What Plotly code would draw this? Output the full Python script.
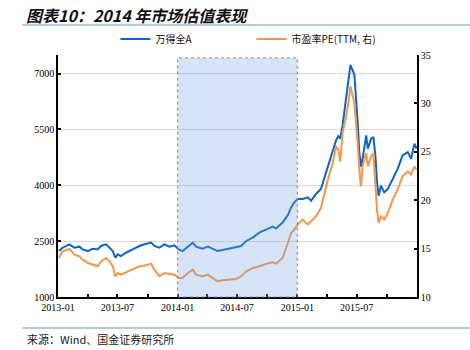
import plotly.graph_objects as go

# ---------------- data ----------------
dates = [
    "2013-01-04", "2013-01-15", "2013-02-05", "2013-02-20", "2013-03-07", "2013-03-17",
    "2013-04-02", "2013-04-17", "2013-05-02", "2013-05-12", "2013-05-28", "2013-06-07",
    "2013-06-17", "2013-06-25", "2013-07-02", "2013-07-12", "2013-07-27", "2013-08-17",
    "2013-09-06", "2013-09-21", "2013-10-12", "2013-10-22", "2013-11-06", "2013-11-21",
    "2013-12-07", "2013-12-22",
    "2014-01-04", "2014-01-16", "2014-02-01", "2014-02-16", "2014-02-26", "2014-03-18",
    "2014-04-03", "2014-04-18", "2014-05-03", "2014-05-18", "2014-06-08", "2014-06-28",
    "2014-07-13", "2014-07-29", "2014-08-18", "2014-09-07", "2014-09-28", "2014-10-18",
    "2014-10-28", "2014-11-17", "2014-12-03", "2014-12-13", "2014-12-23",
    "2015-01-02", "2015-01-17", "2015-02-02", "2015-02-12", "2015-02-27", "2015-03-14",
    "2015-03-24", "2015-04-04", "2015-04-19", "2015-04-29", "2015-05-06", "2015-05-12",
    "2015-05-19", "2015-05-30", "2015-06-07", "2015-06-12", "2015-06-24", "2015-06-29",
    "2015-07-04", "2015-07-09", "2015-07-14", "2015-07-19", "2015-07-30", "2015-08-04",
    "2015-08-14", "2015-08-21", "2015-08-27", "2015-09-01", "2015-09-06", "2015-09-13",
    "2015-09-23", "2015-10-04", "2015-10-19", "2015-11-03", "2015-11-18", "2015-12-04",
    "2015-12-14", "2015-12-24", "2015-12-31",
]

wind_all_a = [
    2234, 2324, 2415, 2324, 2352, 2279, 2234, 2297, 2279, 2370, 2415, 2324,
    2234, 2054, 2144, 2099, 2189, 2279, 2370, 2415, 2460, 2370, 2324, 2415,
    2352, 2388,
    2279, 2234, 2352, 2460, 2352, 2297, 2352, 2297, 2234, 2261, 2297, 2324,
    2370, 2505, 2595, 2730, 2820, 2892, 2838, 3000, 3198, 3406, 3541,
    3631, 3631, 3676, 3586, 3766, 3901, 4172, 4532, 4892, 5208, 5320, 5250,
    5613, 6334, 6784, 7235, 6965, 6424, 5703, 4892, 4500, 4712, 5343, 4982,
    5253, 5298, 4802, 4081, 3721, 3991, 3811, 3901, 4172, 4442, 4802, 4892,
    4712, 5118, 4982,
]

pe_ttm = [
    14.03, 14.72, 14.96, 14.37, 14.20, 13.86, 13.51, 13.34, 13.17, 13.68, 14.03, 13.68,
    13.17, 12.13, 12.48, 12.31, 12.55, 12.82, 13.17, 13.24, 13.44, 12.82, 12.13, 12.48,
    12.41, 12.31,
    11.96, 11.96, 12.48, 12.82, 12.31, 12.13, 12.31, 11.96, 11.62, 11.72, 11.79, 11.86,
    12.13, 12.65, 13.00, 13.17, 13.44, 13.58, 13.44, 14.03, 15.58, 16.61, 16.96,
    17.47, 17.99, 17.47, 17.82, 18.33, 19.19, 20.74, 22.12, 23.84, 25.56, 25.20, 24.00,
    27.00, 28.66, 30.39, 31.76, 30.04, 28.32, 25.91, 23.15, 21.43, 23.50, 24.88, 23.50,
    24.53, 24.88, 21.43, 19.02, 17.64, 18.33, 17.99, 18.68, 20.06, 21.09, 22.47, 22.98,
    22.64, 23.50, 23.15,
]

series_names = ["万得全A", "市盈率PE(TTM, 右)"]
left_ticks = [1000, 2500, 4000, 5500, 7000]
right_ticks = [10, 15, 20, 25, 30, 35]
x_tick_dates = ["2013-01-01", "2013-07-01", "2014-01-01", "2014-07-01", "2015-01-01", "2015-07-01"]
x_tick_labels = ["2013-01", "2013-07", "2014-01", "2014-07", "2015-01", "2015-07"]
x_minor_dates = ["2013-04-01", "2013-10-01", "2014-04-01", "2014-10-01", "2015-04-01", "2015-10-01"]
highlight_period = ["2014-01-01", "2015-01-01"]

title_text = "图表10：2014 年市场估值表现"
source_text = "来源：Wind、国金证券研究所"

BLUE = "#0A66CC"
ORANGE = "#F7964A"
CJK = "Noto Sans CJK SC"
SERIF = "Liberation Serif"

fig = go.Figure()
fig.add_trace(go.Scatter(x=dates, y=wind_all_a, name=series_names[0], mode="lines",
                         line=dict(color=BLUE, width=2), yaxis="y"))
fig.add_trace(go.Scatter(x=dates, y=pe_ttm, name=series_names[1], mode="lines",
                         line=dict(color=ORANGE, width=2), yaxis="y2"))

# highlighted period (translucent overlay + dashed border)
fig.add_shape(type="rect", xref="x", yref="paper", x0=highlight_period[0], x1=highlight_period[1],
              y0=0, y1=0.988, fillcolor="rgb(118,165,222)", opacity=0.3,
              line=dict(width=0), layer="above")
fig.add_shape(type="rect", xref="x", yref="paper", x0=highlight_period[0], x1=highlight_period[1],
              y0=0, y1=0.988, fillcolor="rgba(0,0,0,0)",
              line=dict(color="#7D8AA3", width=1, dash="dot"), layer="above")

# header / footer rules
fig.add_shape(type="line", xref="paper", yref="paper", x0=-0.1, x1=1.15,
              y0=(297 - 25) / 242, y1=(297 - 25) / 242, line=dict(color="#9DBCCB", width=1.5))
fig.add_shape(type="line", xref="paper", yref="paper", x0=-0.1, x1=1.15,
              y0=(297 - 328) / 242, y1=(297 - 328) / 242, line=dict(color="#9DBCCB", width=1.5))

fig.add_annotation(text="<b><i>" + title_text + "</i></b>", xref="paper", yref="paper",
                   x=-0.095, y=(297 - 15) / 242, xanchor="left", yanchor="middle",
                   showarrow=False, font=dict(family=CJK, size=16, color="#111111"))
fig.add_annotation(text=source_text, xref="paper", yref="paper",
                   x=-0.092, y=(297 - 339) / 242, xanchor="left", yanchor="middle",
                   showarrow=False, font=dict(family=CJK, size=11, color="#222222"))

axis_common = dict(showline=True, linecolor="black", linewidth=1.5, ticks="inside",
                   ticklen=3, tickcolor="black", tickwidth=1.5,
                   tickfont=dict(family=SERIF, size=10, color="black"), zeroline=False)

fig.update_layout(
    width=470, height=350,
    margin=dict(l=58, r=53, t=55, b=53),
    paper_bgcolor="white", plot_bgcolor="white",
    showlegend=True,
    legend=dict(orientation="h", x=0.16, y=1.066, xanchor="left", yanchor="middle",
                font=dict(family=CJK, size=10, color="#111111"),
                entrywidth=91, entrywidthmode="pixels",
                bgcolor="rgba(0,0,0,0)", tracegroupgap=0),
    xaxis=dict(type="date", range=["2013-01-01", "2016-01-01"],
               tickmode="array", tickvals=x_tick_dates, ticktext=x_tick_labels,
               showgrid=False,
               minor=dict(tickmode="array", tickvals=x_minor_dates, ticks="inside", ticklen=3,
                          tickcolor="black", tickwidth=1.5, showgrid=False),
               **axis_common),
    yaxis=dict(range=[1000, 7500], tickvals=left_ticks, showgrid=True,
               gridcolor="#D9D9D9", gridwidth=1, **axis_common),
    yaxis2=dict(range=[10, 35], tickvals=right_ticks, overlaying="y", side="right",
                showgrid=False, **axis_common),
)

fig.write_html("out.html")
